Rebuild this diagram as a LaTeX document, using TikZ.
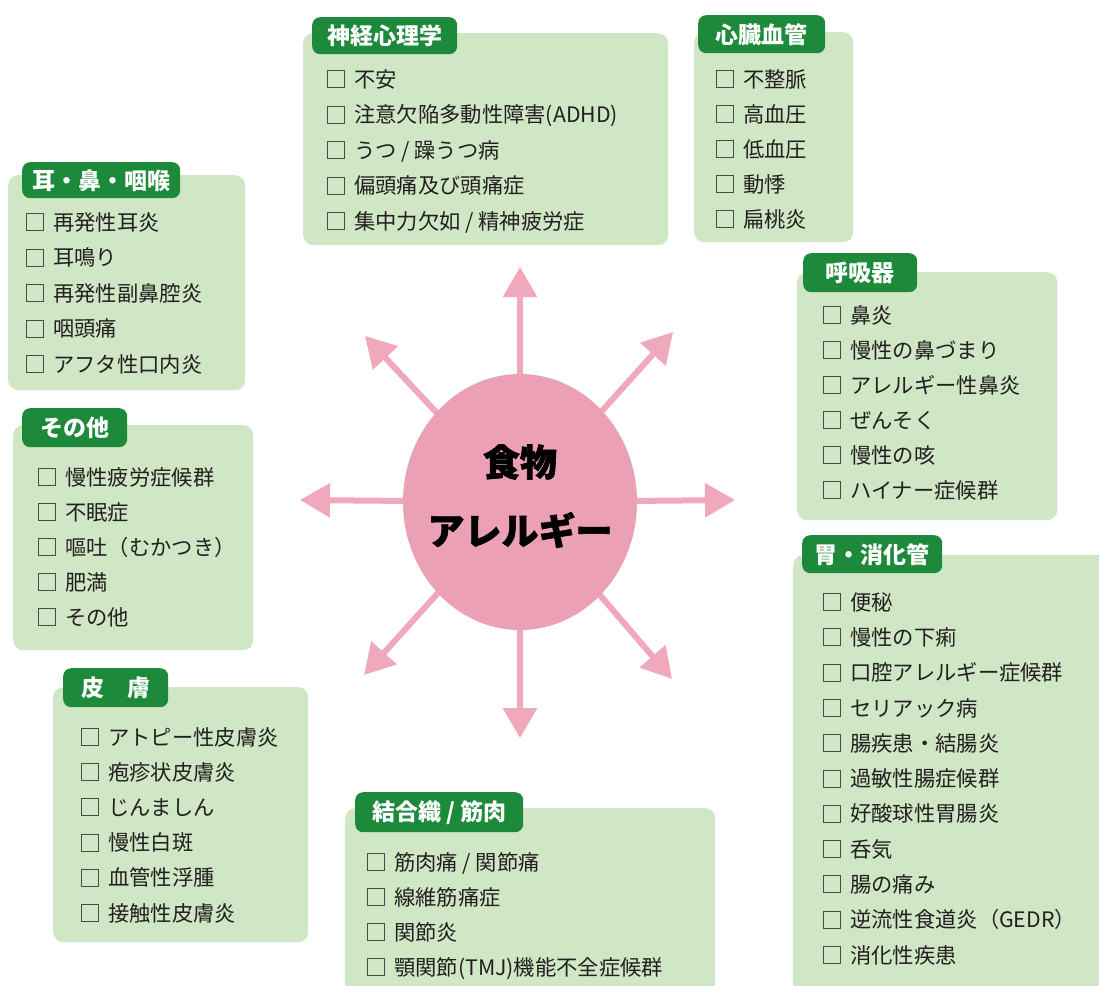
\documentclass[tikz,border=0pt]{standalone}
\usepackage{fontspec}
\newfontfamily\jp{Noto Sans CJK JP}
\newfontfamily\jpheavy{Noto Sans CJK JP}[BoldFeatures={FakeBold=1.6}]
\usetikzlibrary{shapes.geometric,arrows.meta}
\definecolor{panelg}{HTML}{CFE7C4}
\definecolor{tabg}{HTML}{1C8A3A}
\definecolor{pinkc}{HTML}{EBA0B6}
\definecolor{arrc}{HTML}{EFA8BC}
\definecolor{txt}{HTML}{231F20}
\definecolor{boxc}{HTML}{4A4A4A}
\newcommand\itemlist[5]{\foreach \t [count=\i] in {#5}{%
  \node[chk] (#1c\i) at (#2,{#3+(\i-1)*#4}) {};
  \node[itm] (#1\i) at ({#2+18},{#3+(\i-1)*#4}) {\t};}}
\tikzset{
  panel/.style={fill=panelg, rounded corners=10pt, inner sep=0pt, anchor=north west},
  tab/.style={fill=tabg, rounded corners=8pt, text=white, inner sep=0pt, anchor=north west,
    font=\jp\bfseries\fontsize{23}{24}\selectfont},
  chk/.style={draw=boxc, line width=1pt, minimum size=17pt, inner sep=0pt},
  itm/.style={anchor=west, inner sep=0pt, text=txt, font=\jp\fontsize{21.3}{23}\selectfont,
    text height=18pt, text depth=1.8pt},
  arr/.style={draw=arrc, line width=6pt, -{Triangle[width=33pt,length=30pt]}},
  ctitle/.style={inner sep=0pt, text=black, font=\jpheavy\bfseries\fontsize{37}{40}\selectfont},
}
\begin{document}
\begin{tikzpicture}[x=1pt,y=-1pt]
\useasboundingbox (0,0) rectangle (1099,985);
\clip (0,0) rectangle (1099,985);
\fill[white] (0,0) rectangle (1099,985);

% panels
\node[panel, minimum width=365pt, minimum height=212pt] (pA) at (303,33) {};
\node[panel, minimum width=159pt, minimum height=210pt] (pB) at (694,32) {};
\node[panel, minimum width=237pt, minimum height=215pt] (pC) at (8,175) {};
\node[panel, minimum width=240pt, minimum height=225pt] (pD) at (13,425) {};
\node[panel, minimum width=255pt, minimum height=255pt] (pE) at (53,687) {};
\node[panel, minimum width=370pt, minimum height=200pt] (pF) at (345,808) {};
\node[panel, minimum width=260pt, minimum height=248pt] (pG) at (797,272) {};
\node[panel, minimum width=320pt, minimum height=450pt] (pH) at (793,555) {};

% tabs
\node[tab, minimum width=145pt, minimum height=37pt] (tA) at (312,17) {神経心理学};
\node[tab, minimum width=127pt, minimum height=38pt] (tB) at (698,15) {心臓血管};
\node[tab, minimum width=158pt, minimum height=36pt] (tC) at (22,162) {耳・鼻・咽喉};
\node[tab, minimum width=105pt, minimum height=39pt] (tD) at (22,408) {その他};
\node[tab, minimum width=105pt, minimum height=39pt] (tE) at (63,668) {皮　膚};
\node[tab, minimum width=168pt, minimum height=40pt] (tF) at (355,792) {結合織 / 筋肉};
\node[tab, minimum width=114pt, minimum height=39pt] (tG) at (803,253) {呼吸器};
\node[tab, minimum width=140pt, minimum height=38pt] (tH) at (802,535) {胃・消化管};

% items
\itemlist{a}{336}{79}{35.5}{不安,{注意欠陥多動性障害(ADHD)},うつ / 躁うつ病,偏頭痛及び頭痛症,集中力欠如 / 精神疲労症}
\itemlist{b}{725}{79}{35}{不整脈,高血圧,低血圧,動悸,扁桃炎}
\itemlist{c}{35}{222}{35.5}{再発性耳炎,耳鳴り,再発性副鼻腔炎,咽頭痛,アフタ性口内炎}
\itemlist{d}{47}{477}{35}{慢性疲労症候群,不眠症,嘔吐（むかつき）,肥満,その他}
\itemlist{e}{90}{737}{35.2}{アトピー性皮膚炎,疱疹状皮膚炎,じんましん,慢性白斑,血管性浮腫,接触性皮膚炎}
\itemlist{f}{376}{862}{35}{筋肉痛 / 関節痛,線維筋痛症,関節炎,{顎関節(TMJ)機能不全症候群}}
\itemlist{g}{832}{315}{35}{鼻炎,慢性の鼻づまり,アレルギー性鼻炎,ぜんそく,慢性の咳,ハイナー症候群}
\itemlist{h}{832}{602}{35.3}{便秘,慢性の下痢,口腔アレルギー症候群,セリアック病,腸疾患・結腸炎,過敏性腸症候群,好酸球性胃腸炎,呑気,腸の痛み,逆流性食道炎（GEDR）,消化性疾患}

% arrows
\coordinate (c) at (520,502);
\coordinate (aN) at (520,267);
\coordinate (aS) at (520,738);
\coordinate (aE) at (735,500);
\coordinate (aW) at (300,500);
\coordinate (aNE) at (673,332);
\coordinate (aNW) at (365,336);
\coordinate (aSW) at (364,675);
\coordinate (aSE) at (672,679);
\foreach \t in {aN,aS,aE,aW,aNE,aNW,aSW,aSE} \draw[arr] (c) -- (\t);

% center
\node[ellipse, fill=pinkc, minimum width=234pt, minimum height=256pt, inner sep=0pt] (food) at (c) {};
\node[ctitle] (f1) at (520,462) {食物};
\node[ctitle] (f2) at (520,530) {アレルギー};
\end{tikzpicture}
\end{document}
